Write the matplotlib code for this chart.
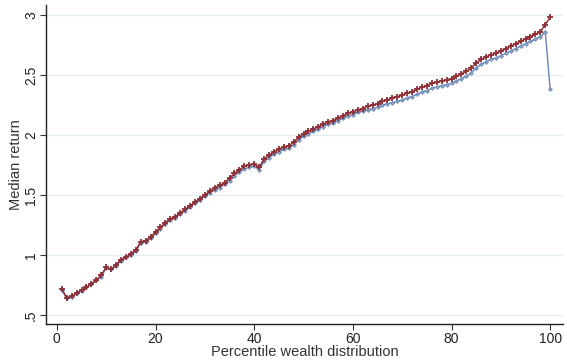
import numpy as np
import matplotlib.pyplot as plt

plt.rcParams['font.family'] = ['Liberation Sans', 'DejaVu Sans']

# percentile of the wealth distribution
pct = np.arange(1, 101)

# median return, two series
ret_red = [0.72, 0.64, 0.66, 0.68, 0.71, 0.73, 0.76, 0.79, 0.83, 0.90,
           0.88, 0.92, 0.96, 0.98, 1.01, 1.04, 1.11, 1.12, 1.15, 1.19,
           1.23, 1.27, 1.30, 1.32, 1.35, 1.38, 1.41, 1.44, 1.47, 1.50,
           1.53, 1.56, 1.58, 1.60, 1.64, 1.68, 1.71, 1.74, 1.75, 1.76,
           1.73, 1.80, 1.83, 1.86, 1.88, 1.90, 1.91, 1.94, 1.98, 2.01,
           2.03, 2.05, 2.07, 2.09, 2.11, 2.12, 2.14, 2.16, 2.18, 2.19,
           2.21, 2.22, 2.24, 2.25, 2.26, 2.28, 2.29, 2.31, 2.32, 2.33,
           2.35, 2.36, 2.38, 2.40, 2.41, 2.43, 2.44, 2.45, 2.46, 2.47,
           2.49, 2.51, 2.53, 2.56, 2.60, 2.63, 2.65, 2.67, 2.68, 2.70,
           2.72, 2.74, 2.76, 2.78, 2.80, 2.82, 2.84, 2.86, 2.92, 2.98]

ret_blue = [0.71, 0.64, 0.65, 0.68, 0.70, 0.73, 0.76, 0.79, 0.82, 0.89,
            0.88, 0.91, 0.95, 0.98, 1.00, 1.03, 1.10, 1.11, 1.14, 1.18,
            1.22, 1.26, 1.29, 1.31, 1.34, 1.37, 1.40, 1.43, 1.46, 1.49,
            1.52, 1.54, 1.56, 1.59, 1.62, 1.66, 1.69, 1.72, 1.73, 1.74,
            1.71, 1.78, 1.81, 1.84, 1.86, 1.88, 1.89, 1.92, 1.96, 1.99,
            2.01, 2.03, 2.05, 2.07, 2.09, 2.10, 2.12, 2.14, 2.16, 2.17,
            2.19, 2.20, 2.21, 2.22, 2.23, 2.25, 2.26, 2.27, 2.28, 2.29,
            2.31, 2.32, 2.34, 2.36, 2.37, 2.39, 2.40, 2.41, 2.42, 2.43,
            2.45, 2.47, 2.49, 2.52, 2.56, 2.59, 2.61, 2.63, 2.64, 2.66,
            2.68, 2.70, 2.72, 2.74, 2.76, 2.78, 2.80, 2.82, 2.86, 2.38]

yticks = [0.5, 1, 1.5, 2, 2.5, 3]
ytick_labels = ['.5', '1', '1.5', '2', '2.5', '3']
xticks = [0, 20, 40, 60, 80, 100]

fig = plt.figure(figsize=(5.67, 3.61), dpi=100)
ax = fig.add_axes([0.082, 0.1025, 0.911, 0.8825])

ax.plot(pct, ret_blue, color='#6583b3', lw=1.0, marker='D', ms=2.0,
        mfc='#8aa6cc', mec='#6583b3', mew=0.5, zorder=2)
ax.plot(pct, ret_red, color='#8e2f36', lw=1.1, marker='+', ms=4.8,
        mew=1.3, zorder=3)

ax.set_xlim(-2.1, 102.6)
ax.set_ylim(0.425, 3.08)
ax.set_xticks(xticks)
ax.set_yticks(yticks)
ax.set_yticklabels(ytick_labels, rotation=90, va='center')
ax.tick_params(axis='both', labelsize=10, length=4, width=0.8, color='#333333',
               labelcolor='#222222')
ax.tick_params(axis='x', pad=2)
ax.tick_params(axis='y', pad=2)
ax.grid(axis='y', color='#e4eef2', lw=1.0)
ax.set_axisbelow(True)

for side in ['top', 'right']:
    ax.spines[side].set_visible(False)
for side in ['left', 'bottom']:
    ax.spines[side].set_color('#222222')
    ax.spines[side].set_linewidth(1.0)

ax.set_xlabel('Percentile wealth distribution', fontsize=10.5, color='#333333', labelpad=-1)
ax.set_ylabel('Median return', fontsize=10.5, color='#333333', labelpad=1)

fig.savefig('out.png', dpi=100)
